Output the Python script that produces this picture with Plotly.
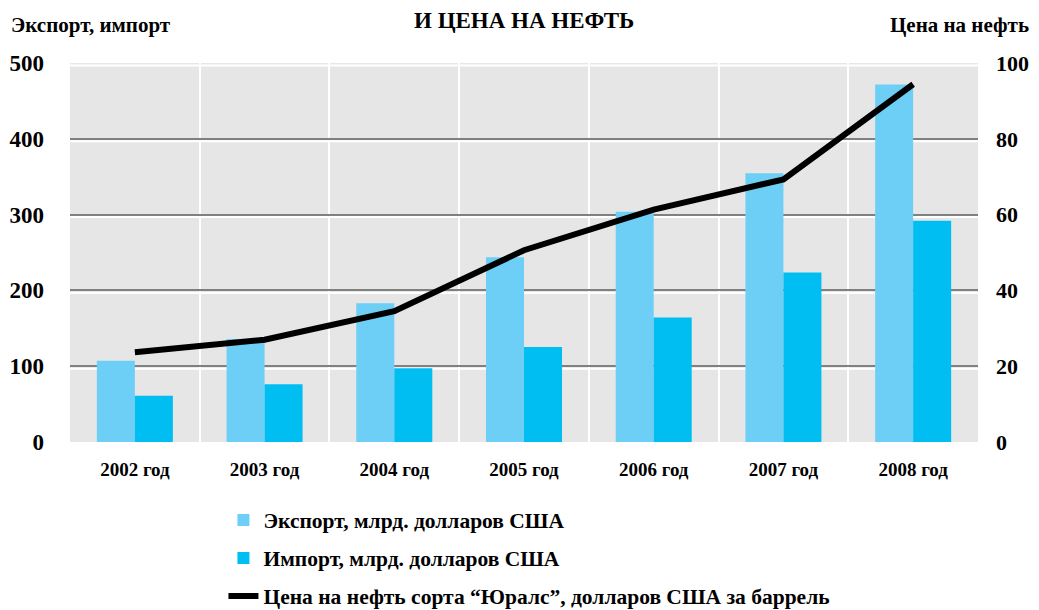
import plotly.graph_objects as go

YEARS = ["2002 год", "2003 год", "2004 год", "2005 год", "2006 год", "2007 год", "2008 год"]
EXPORT = [107.3, 135.9, 183.2, 243.8, 303.6, 354.4, 471.6]
IMPORT = [61.0, 76.1, 97.4, 125.4, 164.3, 223.5, 291.9]
URALS = [23.7, 27.0, 34.5, 50.6, 61.3, 69.3, 94.4]

LEFT_TICKS = [0, 100, 200, 300, 400, 500]
RIGHT_TICKS = [0, 20, 40, 60, 80, 100]

FONT = "Liberation Serif"


def bold(size):
    return {"family": FONT, "size": size, "color": "black", "weight": "bold"}


fig = go.Figure()
fig.add_trace(go.Bar(
    x=YEARS, y=EXPORT, name="Экспорт, млрд. долларов США", legendgroup="exp",
    marker={"color": "#6dcff6", "line": {"width": 0}},
))
fig.add_trace(go.Bar(
    x=YEARS, y=IMPORT, name="Импорт, млрд. долларов США", legendgroup="imp",
    marker={"color": "#00bef2", "line": {"width": 0}},
))
fig.add_trace(go.Scatter(
    x=YEARS, y=URALS, yaxis="y2", mode="lines", legendgroup="urals",
    name="Цена на нефть сорта “Юралс”, долларов США за баррель",
    line={"color": "black", "width": 6},
))

# white highlight just under each grey gridline
shapes = [
    dict(type="line", xref="paper", x0=0, x1=1, yref="y", ysizemode="pixel",
         yanchor=t, y0=-2.5, y1=-2.5, line={"color": "white", "width": 2},
         layer="between")
    for t in LEFT_TICKS[1:]
]

# page body has an 8px margin, so the figure is 8px smaller and shifted
fig.update_layout(
    width=1031, height=602,
    margin={"l": 62, "r": 61, "t": 55, "b": 168, "autoexpand": False},
    paper_bgcolor="white", plot_bgcolor="#e6e6e6",
    font={"family": FONT, "color": "black", "size": 20},
    barmode="group", bargap=0.414, bargroupgap=0,
    showlegend=True,
    legend={
        "x": 0.169, "y": -0.152, "xanchor": "left", "yanchor": "top",
        "orientation": "v", "itemwidth": 30, "traceorder": "grouped",
        "tracegroupgap": 7, "font": bold(21.5),
        "bgcolor": "rgba(0,0,0,0)",
    },
    xaxis={
        "type": "category", "tickson": "boundaries", "showgrid": True,
        "gridcolor": "white", "gridwidth": 2, "ticks": "", "showline": False,
        "zeroline": False, "ticklabelstandoff": 14, "automargin": False,
        "tickfont": bold(19),
    },
    yaxis={
        "range": [0, 500], "tickvals": LEFT_TICKS, "showgrid": True,
        "gridcolor": "#808080", "gridwidth": 2, "zeroline": False,
        "ticks": "", "ticklabelstandoff": 25, "automargin": False,
        "tickfont": bold(23),
    },
    yaxis2={
        "range": [0, 100], "tickvals": RIGHT_TICKS, "overlaying": "y",
        "side": "right", "showgrid": False, "zeroline": False,
        "ticks": "", "ticklabelstandoff": 17, "automargin": False,
        "tickfont": bold(22),
    },
    shapes=shapes,
    annotations=[
        dict(text="Экспорт, импорт", xref="paper", yref="paper",
             x=-0.067, y=1.1, xanchor="left", yanchor="middle",
             showarrow=False, font=bold(21)),
        dict(text="Цена на нефть", xref="paper", yref="paper",
             x=1.058, y=1.1, xanchor="right", yanchor="middle",
             showarrow=False, font=bold(21)),
        dict(text="И ЦЕНА НА НЕФТЬ", xref="paper", yref="paper",
             x=0.5, y=1.113, xanchor="center", yanchor="middle",
             showarrow=False, font=bold(23)),
    ],
)

fig.write_html("out.html")
